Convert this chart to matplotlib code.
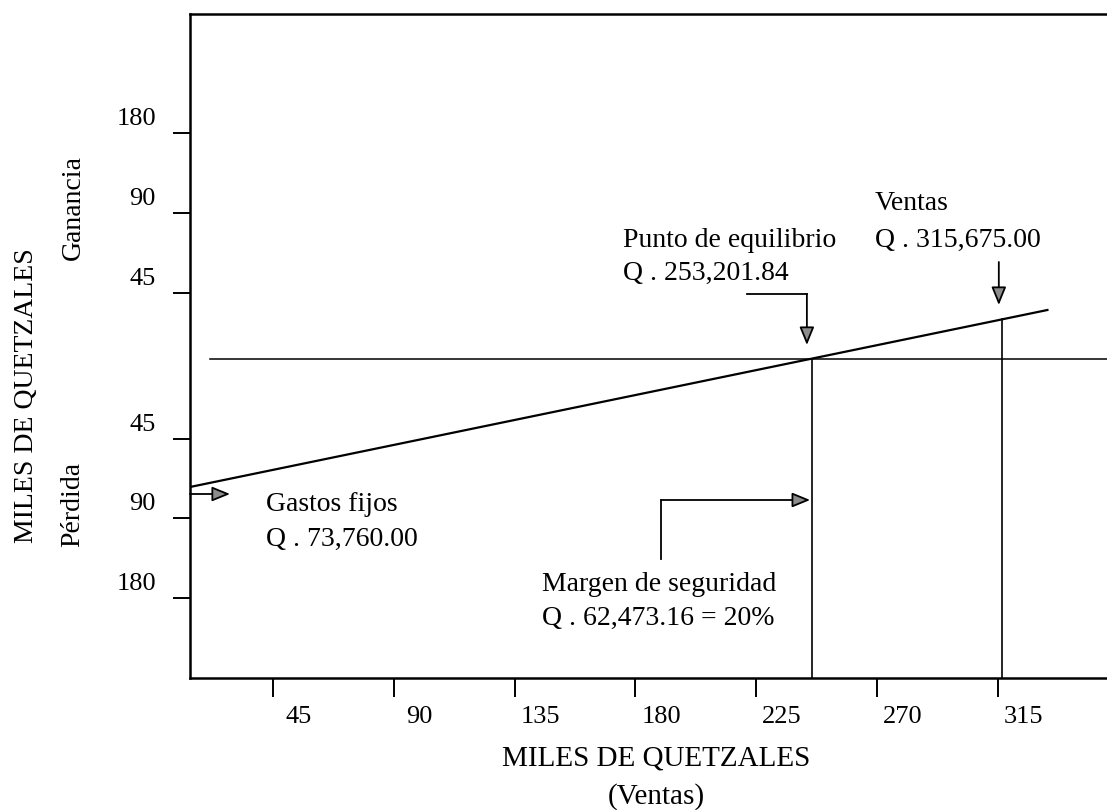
import matplotlib.pyplot as plt
import matplotlib.transforms as mtransforms

plt.rcParams['font.family'] = ['Liberation Serif', 'DejaVu Serif']

# eje x: miles de quetzales (ventas)
x_ticks = [45, 90, 135, 180, 225, 270, 315]
x_labels = ['45', '90', '135', '180', '225', '270', '315']
# eje y: escala esquematica, ganancia arriba / perdida abajo (0 = equilibrio)
y_ticks = [226, 146, 66, -80, -159, -239]
y_labels = ['180', '90', '45', '45', '90', '180']

# recta de resultado (de gastos fijos a ventas)
linea_x = [14.1, 333.5]
linea_y = [-128, 49]
equilibrio_x = 245.8
ventas_x = 316.5
ventas_y = 39.6
gastos_fijos_y = -135

fig = plt.figure(figsize=(11.07, 8.10), dpi=100)
ax = fig.add_axes([190/1107, 132/810, 917/1107, 664/810])
ax.set_xlim(14.1, 355.7)
ax.set_ylim(-319, 345)

ax.spines['right'].set_visible(False)
for s in ['left', 'top', 'bottom']:
    ax.spines[s].set_linewidth(1.8)

ax.set_xticks(x_ticks)
ax.set_xticklabels(x_labels)
ax.set_yticks(y_ticks)
ax.set_yticklabels(y_labels)
ax.tick_params(axis='x', direction='out', length=13.7, width=1.4, pad=6.5, labelsize=19)
ax.tick_params(axis='y', direction='out', length=12.5, width=1.4, pad=12, labelsize=19)

# etiquetas corridas respecto a las marcas, como en el original
dx = mtransforms.ScaledTranslation(26/100, 0, fig.dpi_scale_trans)
for lab in ax.get_xticklabels():
    lab.set_transform(lab.get_transform() + dx)
dy = mtransforms.ScaledTranslation(0, 16.5/100, fig.dpi_scale_trans)
for lab in ax.get_yticklabels():
    lab.set_transform(lab.get_transform() + dy)

# lineas
ax.plot([21.5, 355.7], [0, 0], color='black', lw=1.1)
ax.plot(linea_x, linea_y, color='black', lw=1.6)
ax.plot([equilibrio_x, equilibrio_x], [0, -319], color='black', lw=1.2)
ax.plot([ventas_x, ventas_x], [ventas_y, -319], color='black', lw=1.2)

flecha = dict(arrowstyle='-|>,head_length=1.1,head_width=0.45', mutation_scale=10,
              fc='#8c8c8c', ec='black', lw=1.3, shrinkA=0, shrinkB=0)

# punto de equilibrio
ax.plot([221.6, 243.9], [65, 65], color='black', lw=1.3)
ax.annotate('', xy=(243.9, 14), xytext=(243.9, 65), arrowprops=flecha)
# ventas
ax.annotate('', xy=(315.4, 54), xytext=(315.4, 97), arrowprops=flecha)
# margen de seguridad
ax.plot([189.6, 189.6], [-200, -141], color='black', lw=1.3)
ax.annotate('', xy=(245.1, -141), xytext=(189.6, -141), arrowprops=flecha)
# gastos fijos
ax.annotate('', xy=(29.0, gastos_fijos_y), xytext=(14.1, gastos_fijos_y), arrowprops=flecha)

fs = 20
ax.text(175.5, 112, 'Punto de equilibrio', fontsize=fs, va='baseline')
ax.text(175.5, 79, 'Q . 253,201.84', fontsize=fs, va='baseline')
ax.text(269.3, 149, 'Ventas', fontsize=fs, va='baseline')
ax.text(269.3, 112, 'Q . 315,675.00', fontsize=fs, va='baseline')
ax.text(42.4, -152, 'Gastos fijos', fontsize=fs, va='baseline')
ax.text(42.4, -187, 'Q . 73,760.00', fontsize=fs, va='baseline')
ax.text(145.3, -232, 'Margen de seguridad', fontsize=fs, va='baseline')
ax.text(145.3, -266, 'Q . 62,473.16 = 20%', fontsize=fs, va='baseline')

# titulos de ejes
fig.text(656/1107, 1 - 758/810, 'MILES DE QUETZALES', fontsize=21, ha='center', va='center')
fig.text(656/1107, 1 - 797/810, '(Ventas)', fontsize=21, ha='center', va='center')
fig.text(27/1107, 1 - 396/810, 'MILES DE QUETZALES', fontsize=20, rotation=90, ha='center', va='center')
fig.text(73/1107, 1 - 207/810, 'Ganancia', fontsize=20, rotation=90, ha='center', va='center')
fig.text(73/1107, 1 - 504/810, 'Pérdida', fontsize=20, rotation=90, ha='center', va='center')

fig.savefig('out.png', dpi=100)
